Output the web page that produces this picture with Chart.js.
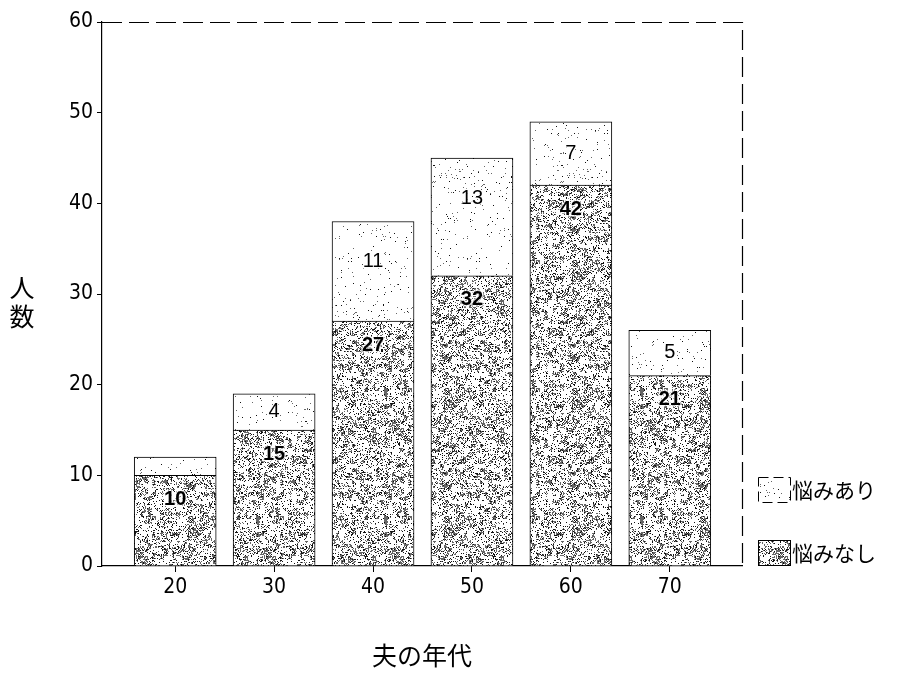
<!DOCTYPE html>
<html><head><meta charset="utf-8">
<script src="https://cdn.jsdelivr.net/npm/chart.js@4/dist/chart.umd.min.js"></script>
<style>html,body{margin:0;padding:0;background:#fff}#wrap{width:910px;height:680px}</style>
</head><body><div id="wrap"><canvas id="c" width="910" height="680"></canvas></div>
<script>
const categories = [20, 30, 40, 50, 60, 70];
const noWorry = [10, 15, 27, 32, 42, 21];   // 悩みなし
const worry = [2, 4, 11, 13, 7, 5];          // 悩みあり
const seriesNames = ['悩みなし', '悩みあり'];
const yTicks = [0, 10, 20, 30, 40, 50, 60];
const xTitle = '夫の年代';
const yTitle = ['人', '数'];

function hash(x, y, s) { const v = Math.sin(x * 12.9898 + y * 78.233 + s * 37.719) * 43758.5453; return v - Math.floor(v); }
function makePattern(density, seed, bg) {
  const N = 128;
  const t = document.createElement('canvas'); t.width = N; t.height = N;
  const g = t.getContext('2d'); g.fillStyle = bg; g.fillRect(0, 0, N, N);
  for (let y = 0; y < N; y++) for (let x = 0; x < N; x++) {
    const c = hash(Math.floor(x / 4) * 1.37, Math.floor(y / 4) * 2.11, seed + 1);
    const h = hash(x * 1.013, y * 0.991, seed);
    if (h < density * (0.2 + 1.6 * c * c)) { g.fillStyle = h < density * 0.3 ? '#111' : '#666'; g.fillRect(x, y, 1, 1); }
  }
  return document.getElementById('c').getContext('2d').createPattern(t, 'repeat');
}
const patDark = makePattern(0.42, 3, '#ffffff');
const patLight = makePattern(0.03, 7, '#ffffff');

const labelPlugin = {
  id: 'labels',
  afterDatasetsDraw(chart) {
    const ctx = chart.ctx; ctx.save();
    ctx.textAlign = 'center'; ctx.textBaseline = 'middle';
    chart.data.datasets.forEach((ds, di) => {
      ctx.font = (di === 0 ? 'bold ' : '') + '20px "Liberation Sans", Arial, sans-serif';
      chart.getDatasetMeta(di).data.forEach((bar, i) => {
        const h = Math.abs(bar.base - bar.y);
        if (h < 20) return;
        const y = di === 0 ? bar.y + 24 : bar.y + Math.min(h / 2, 40);
        const s = String(ds.data[i].y);
        ctx.lineWidth = 3; ctx.strokeStyle = 'rgba(255,255,255,0.7)'; ctx.strokeText(s, bar.x, y);
        ctx.fillStyle = '#000'; ctx.fillText(s, bar.x, y);
      });
    });
    ctx.restore();
  }
};
const framePlugin = {
  id: 'frame',
  afterDraw(chart) {
    const ctx = chart.ctx, a = chart.chartArea; ctx.save();
    ctx.strokeStyle = '#000'; ctx.lineWidth = 1.2; ctx.setLineDash([20, 7]);
    ctx.beginPath(); ctx.moveTo(a.left, a.top + 0.5); ctx.lineTo(a.right + 0.5, a.top + 0.5); ctx.lineTo(a.right + 0.5, a.bottom); ctx.stroke();
    ctx.setLineDash([]);
    ctx.fillStyle = '#000'; ctx.textAlign = 'center'; ctx.textBaseline = 'middle';
    ctx.font = '25px "Noto Sans CJK JP", sans-serif';
    ctx.fillText(xTitle, (a.left + a.right) / 2, 655);
    ctx.fillText(yTitle[0], 22, 287); ctx.fillText(yTitle[1], 22, 316);
    const items = [{ n: seriesNames[1], ds: chart.data.datasets[1], y: 490 }, { n: seriesNames[0], ds: chart.data.datasets[0], y: 553 }];
    ctx.font = '21px "Noto Sans CJK JP", sans-serif'; ctx.textAlign = 'left';
    items.forEach(it => {
      ctx.fillStyle = it.ds.backgroundColor; ctx.fillRect(758, it.y - 13, 32, 26);
      ctx.setLineDash(it.ds.borderDash || []); ctx.strokeStyle = '#000'; ctx.lineWidth = 1;
      ctx.strokeRect(758.5, it.y - 12.5, 32, 25); ctx.setLineDash([]);
      ctx.fillStyle = '#000'; ctx.fillText(it.n, 792, it.y);
    });
    ctx.restore();
  }
};

const toPts = arr => categories.map((c, i) => ({ x: c, y: arr[i] }));
const tickFont = { size: 21, family: '"Liberation Sans Narrow", "DejaVu Sans Condensed", sans-serif' };
new Chart(document.getElementById('c'), {
  type: 'bar',
  data: {
    datasets: [
      { label: seriesNames[0], data: toPts(noWorry), backgroundColor: patDark, borderColor: '#000', borderWidth: 1, barThickness: 82 },
      { label: seriesNames[1], data: toPts(worry), backgroundColor: patLight, borderColor: '#000', borderWidth: 1, borderDash: [10, 5], barThickness: 82 }
    ]
  },
  options: {
    responsive: false, animation: false,
    layout: { padding: { left: 0, top: 22, right: 168, bottom: 0 } },
    plugins: { legend: { display: false }, tooltip: { enabled: false } },
    scales: {
      x: {
        type: 'linear', stacked: true, min: 12.6, max: 77.3, offset: false,
        afterBuildTicks: s => { s.ticks = categories.map(v => ({ value: v })); },
        afterFit: s => { s.height = 114; },
        grid: { offset: false, drawOnChartArea: false, drawTicks: true, tickLength: 6, color: '#000' },
        border: { display: true, color: '#000', width: 1.2 },
        ticks: { color: '#000', font: tickFont, padding: 3 }
      },
      y: {
        stacked: true, min: 0, max: 60,
        afterBuildTicks: s => { s.ticks = yTicks.map(v => ({ value: v })); },
        afterFit: s => { s.width = 102; },
        grid: { drawOnChartArea: false, drawTicks: true, tickLength: 5, color: '#000' },
        border: { display: true, color: '#000', width: 1.2, dash: [22, 6] },
        ticks: { color: '#000', font: tickFont, padding: 4 }
      }
    }
  },
  plugins: [labelPlugin, framePlugin]
});
</script></body></html>
